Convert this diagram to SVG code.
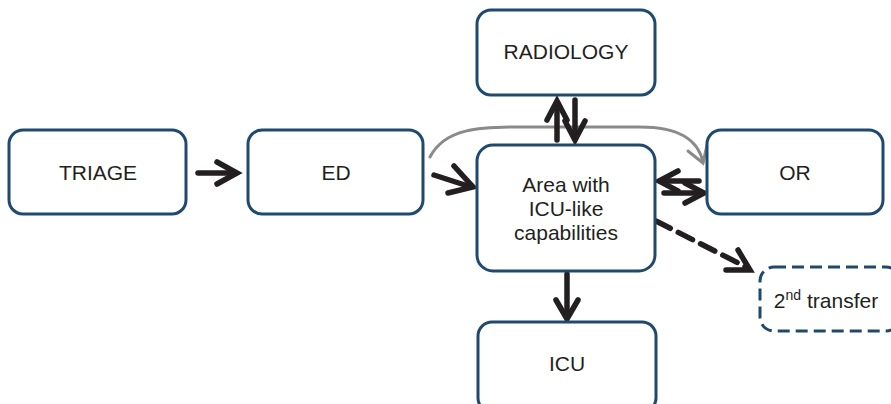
<svg xmlns="http://www.w3.org/2000/svg" width="891" height="404" viewBox="0 0 891 404">
  <defs>
    <style>
      .box { fill: #ffffff; stroke: #1f4a6e; stroke-width: 3; }
      .dash { stroke-dasharray: 12 6; }
      .lbl { font-family: "Liberation Sans", Arial, sans-serif; font-size: 21px; fill: #231f20; text-anchor: middle; }
      .arr { fill: none; stroke: #231f20; stroke-width: 5.5; stroke-linecap: round; }
      .head { fill: none; stroke: #231f20; stroke-width: 5.5; stroke-linecap: round; stroke-linejoin: miter; }
      .grey { fill: none; stroke: #8a8a8a; stroke-width: 3; stroke-linecap: round; }
    </style>
  </defs>

  <rect width="891" height="404" fill="#ffffff"/>

  <g id="connectors">
    <!-- ED to OR bypass (grey curve) -->
    <path class="grey" d="M430,157 C445,128 480,127 520,127 L640,127 C680,127 698,140 703,162"/>
    <path class="grey" d="M688,151 L703,163 L707,145"/>

    <!-- TRIAGE -> ED -->
    <line class="arr" x1="198" y1="173" x2="236" y2="173"/>
    <path class="head" d="M217,162 L237,173 L217,184"/>

    <!-- ED -> Area -->
    <line class="arr" x1="434" y1="175" x2="471" y2="187"/>
    <path class="head" d="M454,166 L473,187 L448,193"/>

    <!-- Area -> RADIOLOGY -->
    <line class="arr" x1="557" y1="140" x2="557" y2="103"/>
    <path class="head" d="M547,120 L557,101 L567,120"/>
    <!-- RADIOLOGY -> Area -->
    <line class="arr" x1="575" y1="100" x2="575" y2="139"/>
    <path class="head" d="M565,121 L575,140 L585,121"/>

    <!-- OR -> Area -->
    <line class="arr" x1="699" y1="181" x2="661" y2="181"/>
    <path class="head" d="M678,171 L659,181 L678,191"/>
    <!-- Area -> OR -->
    <line class="arr" x1="664" y1="193" x2="702" y2="193"/>
    <path class="head" d="M685,183 L704,193 L685,203"/>

    <!-- Area -> ICU -->
    <line class="arr" x1="567" y1="274" x2="567" y2="317"/>
    <path class="head" d="M556,300 L567,319 L578,300"/>

    <!-- Area -> 2nd transfer (dashed) -->
    <line class="arr" x1="656" y1="221" x2="746" y2="267" stroke-dasharray="16 9" stroke-linecap="butt"/>
    <path class="head" d="M738,250 L750,270 L726,270"/>
  </g>

  <g id="triage">
    <rect class="box" x="9" y="130" width="177" height="84" rx="14"/>
    <text class="lbl" x="98" y="180">TRIAGE</text>
  </g>

  <g id="ed">
    <rect class="box" x="248" y="130" width="175" height="84" rx="14"/>
    <text class="lbl" x="336" y="180">ED</text>
  </g>

  <g id="radiology">
    <rect class="box" x="477" y="10" width="178" height="85" rx="14"/>
    <text class="lbl" x="566" y="59">RADIOLOGY</text>
  </g>

  <g id="area">
    <rect class="box" x="477" y="145" width="178" height="126" rx="16"/>
    <text class="lbl" x="566" y="192">Area with</text>
    <text class="lbl" x="566" y="216">ICU-like</text>
    <text class="lbl" x="566" y="240">capabilities</text>
  </g>

  <g id="or">
    <rect class="box" x="707" y="130" width="176" height="84" rx="14"/>
    <text class="lbl" x="795" y="180">OR</text>
  </g>

  <g id="icu">
    <rect class="box" x="478" y="322" width="178" height="90" rx="14"/>
    <text class="lbl" x="567" y="371">ICU</text>
  </g>

  <g id="second-transfer">
    <rect class="box dash" x="760" y="267" width="140" height="64" rx="14"/>
    <text class="lbl" x="826" y="308">2<tspan font-size="14" dy="-8">nd</tspan><tspan dy="8"> transfer</tspan></text>
  </g>
</svg>
